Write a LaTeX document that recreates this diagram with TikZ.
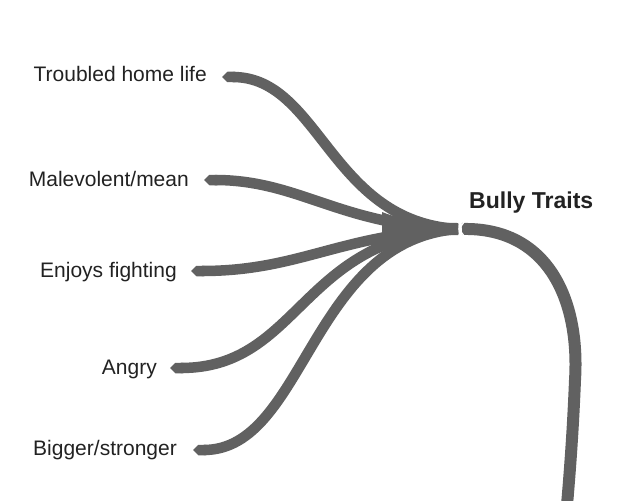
\documentclass[tikz,border=0pt]{standalone}
\usepackage{fontspec}
\setmainfont{Liberation Sans}
\usetikzlibrary{arrows.meta}
\definecolor{branchgray}{HTML}{616161}
\definecolor{labelink}{HTML}{222222}
\begin{document}
\begin{tikzpicture}[x=1pt,y=-1pt,
  label/.style={anchor=base east,inner sep=0pt,text=labelink,font=\fontsize{21}{25}\selectfont},
  title/.style={anchor=base west,inner sep=0pt,text=labelink,font=\bfseries\fontsize{23}{27}\selectfont},
  branch/.style={draw=branchgray,line width=10.5pt,{Triangle Cap[length=5.5pt]}-}]
  \useasboundingbox[fill=white] (0,0) rectangle (631,500);

  % hub of the map and its title
  \coordinate (hub) at (458,229);
  \node[title] (root) at (469,208) {Bully Traits};

  % branch tips and their labels
  \coordinate (t1) at (222,77);
  \coordinate (t2) at (204,180);
  \coordinate (t3) at (191,271);
  \coordinate (t4) at (170,368);
  \coordinate (t5) at (193,450);
  \node[label] (l1) at (207,82) {Troubled home life};
  \node[label] (l2) at (189,186) {Malevolent/mean};
  \node[label] (l3) at (177,277) {Enjoys fighting};
  \node[label] (l4) at (157,374) {Angry};
  \node[label] (l5) at (177,455) {Bigger/stronger};

  % branches, each running from its tip into the hub
  \draw[branch] (t1) .. controls (320,77) and (330,222) .. (hub);
  \draw[branch] (t2) .. controls (300,180) and (340,226) .. (hub);
  \draw[branch] (t3) .. controls (300,271) and (340,234) .. (hub);
  \draw[branch] (t4) .. controls (300,368) and (300,238) .. (hub);
  \draw[branch] (t5) .. controls (305,450) and (310,240) .. (hub);

  % the branches gather into one short stem before the hub
  \fill[branchgray] (382,212) .. controls (405,221) and (425,223) .. (458,223)
    -- (458,235) .. controls (425,235) and (405,239) .. (382,250) -- cycle;

  % trunk leaving the hub and running off the bottom edge
  \coordinate (trunkstart) at (462,229);
  \coordinate (trunkend) at (567,505);
  \draw[draw=branchgray,line width=12pt] (trunkstart)
    .. controls (548,227) and (580,300) .. (575,380)
    .. controls (573,430) and (570,470) .. (trunkend);

  % notch where the trunk meets the branches
  \draw[white,line width=1.4pt] (464,222) -- (459,229) -- (464,236);
\end{tikzpicture}
\end{document}
